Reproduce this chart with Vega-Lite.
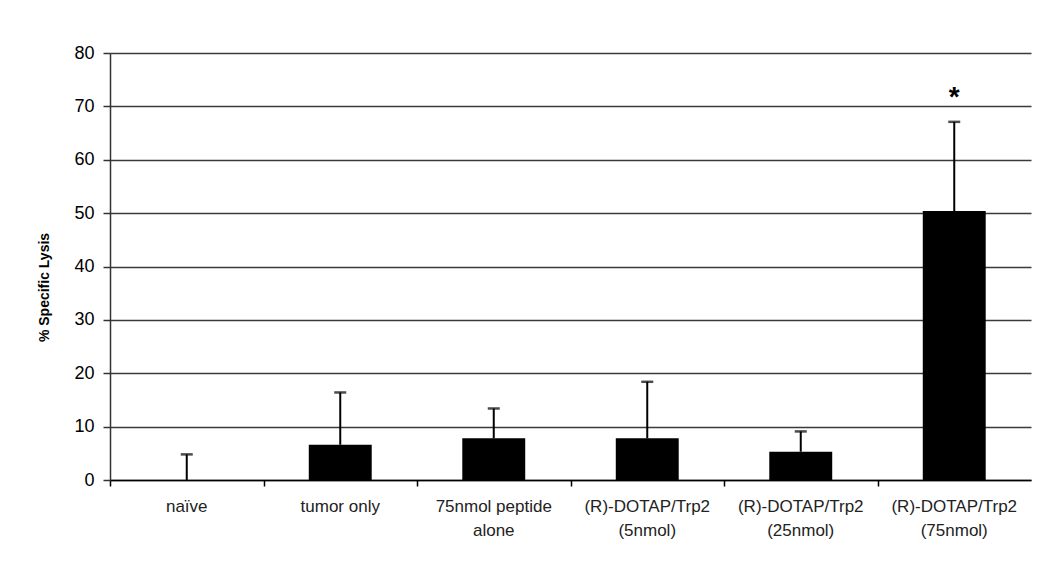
{
  "$schema": "https://vega.github.io/schema/vega-lite/v6.json",
  "autosize": {"type": "none"},
  "padding": {"left": 110, "top": 53, "right": 19, "bottom": 82},
  "width": 921,
  "height": 427,
  "background": "white",
  "config": {
    "view": {"stroke": null},
    "font": "Liberation Sans"
  },
  "data": {
    "values": [
      {"group": "naïve", "value": 0, "upper": 4.8, "sig": ""},
      {"group": "tumor only", "value": 6.6, "upper": 16.4, "sig": ""},
      {"group": "75nmol peptide|alone", "value": 7.8, "upper": 13.4, "sig": ""},
      {"group": "(R)-DOTAP/Trp2|(5nmol)", "value": 7.8, "upper": 18.4, "sig": ""},
      {"group": "(R)-DOTAP/Trp2|(25nmol)", "value": 5.3, "upper": 9.1, "sig": ""},
      {"group": "(R)-DOTAP/Trp2|(75nmol)", "value": 50.4, "upper": 67.1, "sig": "*"}
    ]
  },
  "resolve": {"axis": {"x": "independent"}},
  "layer": [
    {
      "mark": {"type": "bar", "color": "#000"},
      "encoding": {
        "x": {
          "field": "group",
          "type": "nominal",
          "sort": null,
          "scale": {"paddingInner": 0.59, "paddingOuter": 0.295},
          "axis": {
            "orient": "bottom",
            "title": null,
            "labelAngle": 0,
            "labelExpr": "split(datum.label, '|')",
            "labelFontSize": 17,
            "labelColor": "#222",
            "labelLineHeight": 24,
            "labelPadding": 18,
            "labelBaseline": "top",
            "ticks": false,
            "domainColor": "#000",
            "domainWidth": 1.5
          }
        },
        "y": {
          "field": "value",
          "type": "quantitative",
          "scale": {"domain": [0, 80]},
          "axis": {
            "title": "% Specific Lysis",
            "titleFontSize": 14,
            "titleFontWeight": "bold",
            "titleColor": "#000",
            "titlePadding": 22,
            "titleY": 234,
            "values": [0, 10, 20, 30, 40, 50, 60, 70, 80],
            "labelFontSize": 18,
            "labelColor": "#000",
            "labelPadding": 9,
            "tickSize": 7,
            "tickColor": "#333",
            "tickWidth": 1.5,
            "grid": true,
            "gridColor": "#3a3a3a",
            "gridWidth": 1.5,
            "domainColor": "#333",
            "domainWidth": 1.5
          }
        }
      }
    },
    {
      "mark": {"type": "rule", "color": "#000", "strokeWidth": 2},
      "encoding": {
        "x": {"field": "group", "type": "nominal", "sort": null, "axis": null},
        "y": {"field": "value", "type": "quantitative"},
        "y2": {"field": "upper"}
      }
    },
    {
      "mark": {"type": "tick", "orient": "horizontal", "color": "#000", "size": 12, "thickness": 2.5},
      "encoding": {
        "x": {
          "field": "group",
          "type": "nominal",
          "sort": null,
          "axis": {
            "orient": "bottom",
            "title": null,
            "labels": false,
            "domain": false,
            "ticks": true,
            "bandPosition": 0,
            "tickOffset": -45,
            "tickSize": 6,
            "tickColor": "#000",
            "tickWidth": 1.5,
            "offset": 0
          }
        },
        "y": {"field": "upper", "type": "quantitative"}
      }
    },
    {
      "mark": {"type": "text", "color": "#000", "fontSize": 28, "fontWeight": "bold", "baseline": "middle", "dy": -24},
      "encoding": {
        "x": {"field": "group", "type": "nominal", "sort": null, "axis": null},
        "y": {"field": "upper", "type": "quantitative"},
        "text": {"field": "sig"}
      }
    }
  ]
}
